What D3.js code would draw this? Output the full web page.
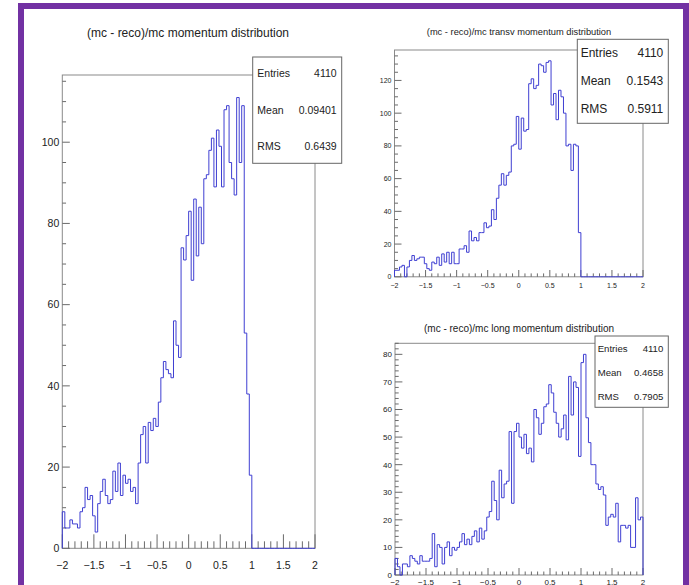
<!DOCTYPE html>
<html>
<head>
<meta charset="utf-8">
<script src="https://cdn.jsdelivr.net/npm/d3@7"></script>
<style>
  body { margin: 0; background: #fff; }
  svg { display: block; }
</style>
</head>
<body>
<div id="chart"></div>
<script>
// bin contents, 100 bins from -2 to 2 each
let momentumCounts = [
  9, 5, 5, 7, 6, 6, 5, 9, 10, 15,
  12, 13, 8, 4, 11, 14, 17, 13, 11, 12,
  19, 14, 21, 13, 18, 16, 17, 14, 15, 11,
  21, 28, 30, 21, 31, 29, 32, 30, 36, 42,
  46, 44, 43, 42, 56, 50, 47, 74, 71, 77,
  83, 66, 86, 72, 84, 75, 91, 92, 98, 101,
  89, 103, 99, 89, 108, 109, 95, 91, 87, 111,
  95, 109, 53, 38, 18, 0, 0, 0, 0, 0,
  0, 0, 0, 0, 0, 0, 0, 0, 0, 0,
  0, 0, 0, 0, 0, 0, 0, 0, 0, 0
];

let transvCounts = [
  4, 4, 6, 7, 0, 6, 10, 13, 10, 11,
  12, 12, 8, 5, 4, 9, 8, 12, 7, 14,
  9, 15, 8, 15, 8, 8, 17, 17, 19, 15,
  28, 22, 24, 22, 27, 27, 33, 30, 31, 41,
  35, 48, 56, 63, 56, 62, 64, 80, 81, 98,
  78, 97, 89, 90, 118, 121, 115, 117, 130, 129,
  125, 131, 132, 105, 112, 96, 114, 110, 100, 80,
  81, 65, 81, 80, 27, 0, 0, 0, 0, 0,
  0, 0, 0, 0, 0, 0, 0, 0, 0, 0,
  0, 0, 0, 0, 0, 0, 0, 0, 0, 0
];

let longCounts = [
  6, 3, 0, 4, 4, 3, 7, 6, 5, 4,
  7, 5, 5, 5, 6, 15, 3, 11, 10, 4,
  10, 12, 7, 10, 9, 10, 12, 15, 11, 13,
  11, 14, 16, 12, 17, 13, 16, 21, 23, 34,
  27, 20, 38, 28, 33, 34, 52, 26, 52, 55,
  50, 46, 51, 44, 46, 41, 60, 57, 51, 55,
  61, 62, 69, 66, 59, 55, 50, 53, 58, 49,
  72, 58, 70, 68, 43, 77, 80, 57, 48, 40,
  40, 33, 31, 32, 29, 18, 21, 22, 21, 26,
  12, 18, 18, 17, 18, 10, 10, 28, 20, 21
];

let histTitles = [
  "(mc - reco)/mc momentum distribution",
  "(mc - reco)/mc transv momentum distribution",
  "(mc - reco)/mc long momentum distribution"
];
let statLabels = ["Entries", "Mean", "RMS"];
let statValues = [
  ["4110", "0.09401", "0.6439"],
  ["4110", "0.1543", "0.5911"],
  ["4110", "0.4658", "0.7905"]
];
let xRange = [-2, 2];

let width = 689, height = 585;
let lineColor = "#3f3fd2";
let font = "'Liberation Sans', Arial, Helvetica, sans-serif";

let svg = d3.select("#chart")
  .append("svg")
  .attr("width", width)
  .attr("height", height)
  .attr("viewBox", [0, 0, width, height])
  .attr("font-family", font);

// purple canvas border
svg.append("rect")
  .attr("x", 21).attr("y", 6)
  .attr("width", 665).attr("height", 590)
  .attr("fill", "none")
  .attr("stroke", "#7231a3")
  .attr("stroke-width", 6);

let panels = [
  {
    counts: momentumCounts, title: histTitles[0], stats: statValues[0],
    left: 62.3, right: 315, top: 75, bottom: 548.3,
    yMajor: 20, yMinor: 5, tickX: 14, tickY: 7.5, tickFont: 10.5,
    labelGapY: 3, labelXBase: 569,
    titleX: 188, titleY: 37, titleFont: 12,
    box: { x: 252.7, y: 57, w: 89, h: 106.3, left: 257.3, right: 336.7, rows: [76.5, 113.5, 150], font: 10.5 }
  },
  {
    counts: transvCounts, title: histTitles[1], stats: statValues[1],
    left: 394.5, right: 643, top: 50, bottom: 276.8,
    yMajor: 20, yMinor: 5, tickX: 6.8, tickY: 7, tickFont: 7,
    labelGapY: 3, labelXBase: 287.5,
    titleX: 519, titleY: 34.5, titleFont: 9.3,
    box: { x: 577.3, y: 39.3, w: 91, h: 84, left: 580.7, right: 663.3, rows: [57.2, 85.2, 113.2], font: 12 }
  },
  {
    counts: longCounts, title: histTitles[2], stats: statValues[2],
    left: 395, right: 643, top: 343.3, bottom: 575,
    yMajor: 10, yMinor: 2, tickX: 7, tickY: 7.4, tickFont: 8,
    labelGapY: 3, labelXBase: 584.5,
    titleX: 519, titleY: 331.8, titleFont: 10,
    box: { x: 595, y: 336, w: 73.3, h: 71.3, left: 597.7, right: 663.3, rows: [351.6, 375.6, 400], font: 9.6 }
  }
];

panels.forEach(p => drawHist(p));

function drawHist(p) {
  let n = p.counts.length;
  let binW = (xRange[1] - xRange[0]) / n;
  let yMax = d3.max(p.counts) * 1.05;

  let x = d3.scaleLinear().domain(xRange).range([p.left, p.right]);
  let y = d3.scaleLinear().domain([0, yMax]).range([p.bottom, p.top]);

  let g = svg.append("g");

  // frame
  g.append("rect")
    .attr("x", p.left).attr("y", p.top)
    .attr("width", p.right - p.left).attr("height", p.bottom - p.top)
    .attr("fill", "none")
    .attr("stroke", "#8a8a8a")
    .attr("stroke-width", 1);

  // y ticks, drawn inward
  let yMinorTicks = d3.range(0, yMax + 1e-9, p.yMinor);
  g.append("g")
    .selectAll("line")
    .data(yMinorTicks)
    .join("line")
    .attr("x1", p.left)
    .attr("x2", d => p.left + (Math.abs(d % p.yMajor) < 1e-9 ? p.tickY : p.tickY / 2))
    .attr("y1", d => y(d)).attr("y2", d => y(d))
    .attr("stroke", "#6a6a6a");

  g.append("g")
    .selectAll("text")
    .data(d3.range(0, yMax + 1e-9, p.yMajor))
    .join("text")
    .attr("x", p.left - p.labelGapY)
    .attr("y", d => y(d))
    .attr("dy", "0.36em")
    .attr("text-anchor", "end")
    .attr("font-size", p.tickFont)
    .attr("fill", "#222")
    .text(d => d);

  // x ticks, drawn upward
  let xTicks = d3.range(0, 41).map(i => xRange[0] + i * 0.1);
  g.append("g")
    .selectAll("line")
    .data(xTicks)
    .join("line")
    .attr("x1", d => x(d)).attr("x2", d => x(d))
    .attr("y1", p.bottom)
    .attr("y2", (d, i) => p.bottom - (i % 5 === 0 ? p.tickX : p.tickX / 2))
    .attr("stroke", "#6a6a6a");

  g.append("g")
    .selectAll("text")
    .data(d3.range(0, 9).map(i => xRange[0] + i * 0.5))
    .join("text")
    .attr("x", d => x(d))
    .attr("y", p.labelXBase)
    .attr("text-anchor", "middle")
    .attr("font-size", p.tickFont)
    .attr("fill", "#222")
    .text(d => d3.format("")(d));

  // histogram outline
  let pts = [{ x: xRange[0], y: 0 }]
    .concat(p.counts.map((v, i) => ({ x: xRange[0] + i * binW, y: v })))
    .concat([{ x: xRange[1], y: 0 }]);

  let line = d3.line()
    .x(d => x(d.x))
    .y(d => y(d.y))
    .curve(d3.curveStepAfter);

  g.append("path")
    .attr("d", line(pts))
    .attr("fill", "none")
    .attr("stroke", lineColor)
    .attr("stroke-width", 1);

  // title
  g.append("text")
    .attr("x", p.titleX)
    .attr("y", p.titleY)
    .attr("text-anchor", "middle")
    .attr("font-size", p.titleFont)
    .attr("fill", "#222")
    .text(p.title);

  // stats box
  let b = p.box;
  g.append("rect")
    .attr("x", b.x).attr("y", b.y)
    .attr("width", b.w).attr("height", b.h)
    .attr("fill", "#fff")
    .attr("stroke", "#666")
    .attr("stroke-width", 1);

  let rows = g.append("g")
    .selectAll("g")
    .data(d3.zip(statLabels, p.stats, b.rows))
    .join("g")
    .attr("font-size", b.font)
    .attr("fill", "#222");

  rows.append("text")
    .attr("x", b.left)
    .attr("y", d => d[2])
    .text(d => d[0]);

  rows.append("text")
    .attr("x", b.right)
    .attr("y", d => d[2])
    .attr("text-anchor", "end")
    .text(d => d[1]);
}
</script>
</body>
</html>
